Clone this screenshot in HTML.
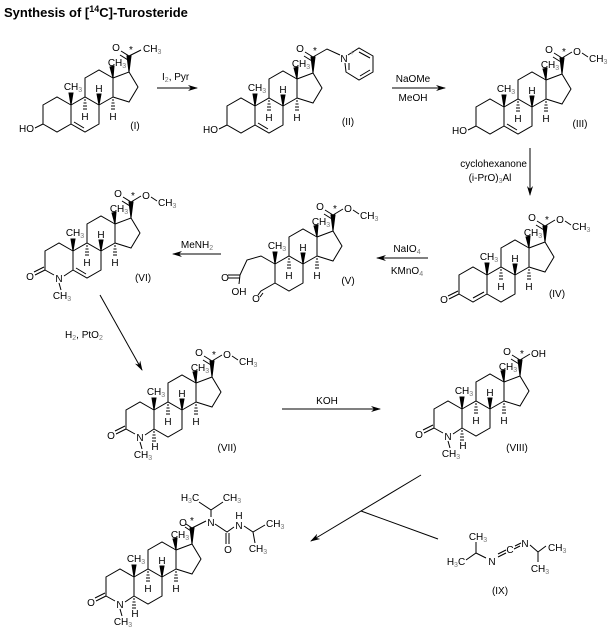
<!DOCTYPE html>
<html><head><meta charset="utf-8"><style>
html,body{margin:0;padding:0;background:#fff;}
svg{display:block;}
text{font-family:"Liberation Sans",sans-serif;font-size:10px;fill:#000;}
.s{font-size:7px;fill:#777;}
.m{text-anchor:middle;}
.e{text-anchor:end;}
.ttl{font-size:13px;font-weight:bold;}
</style></head><body>
<svg width="611" height="632" viewBox="0 0 611 632" xmlns="http://www.w3.org/2000/svg">
<defs>
<marker id="ah" markerWidth="10" markerHeight="8" refX="9" refY="4" orient="auto" markerUnits="userSpaceOnUse">
<path d="M0,1 L10,4 L0,7 L3,4 Z" fill="#000"/></marker>
<g id="bcd" stroke="#000" stroke-width="1" fill="none">
<path d="M28,-19 L42,-27 L56,-19 L56,0 L42,8 L28,0 Z"/>
<path d="M42,-27 L42,-46 L56,-54 L70,-46 L70,-27 L56,-19"/>
<path d="M70,-46 L86,-52 L95,-37 L86,-22 L70,-27"/>
<polygon points="28,-19 26,-31 30,-31" fill="#000"/>
<polygon points="56,-19 54,-30 58,-30" fill="#000"/>
<polygon points="70,-46 67,-57 71,-58" fill="#000"/>
<polygon points="86,-52 84,-68 88,-68" fill="#000"/>
<path d="M41,-24 h2 M40.5,-21 h3 M40,-18 h4 M40,-15 h4"/>
<path d="M69,-24 h2 M68.5,-21 h3 M68,-18 h4 M68,-15 h4"/>
</g>
<path id="ringA" d="M28,-19 L14,-27 L0,-19 L0,0 L14,8 L28,0" stroke="#000" fill="none"/>
<g id="azaA" stroke="#000" fill="none">
<path d="M28,-19 L14,-27 L0,-19 L0,0 L9,5 M19,6 L28,0 M14,13 L16,20"/>
<path d="M0,0 L-10,5 M-1,-3 L-11,2"/>
</g>
<g id="ester" stroke="#000" fill="none">
<path d="M86,-68 L78,-73 M85,-64 L77,-69 M86,-68 L96,-74 M106,-73 L112,-69"/>
</g>
<path id="hash5" d="M27,3 h2 M26.5,6 h3 M26,9 h4 M26,12 h4" stroke="#000" fill="none"/>
</defs>

<text x="4" y="17" class="ttl">Synthesis of [<tspan font-size="9" dy="-5">14</tspan><tspan dy="5">C]-Turosteride</tspan></text>

<!-- I -->
<g transform="translate(43,124)">
<use href="#bcd"/><use href="#ringA"/>
<path d="M31,-2 L41,4 M0,0 L-8,4 M86,-68 L78,-73 M85,-64 L77,-69 M86,-68 L98,-74" stroke="#000" fill="none"/>
<text x="-9" y="8" class="e">HO</text>
<text x="30" y="-34" class="m">CH<tspan class="s" dy="2">3</tspan></text>
<text x="42" y="-4" class="m">H</text><text x="56" y="-32" class="m">H</text><text x="70" y="-4" class="m">H</text>
<text x="74" y="-58" class="m">CH<tspan class="s" dy="2">3</tspan></text>
<text x="73" y="-73" class="m">O</text><text x="88" y="-71" class="m">*</text>
<text x="100" y="-72">CH<tspan class="s" dy="2">3</tspan></text>
</g>
<text x="135" y="129" class="m">(I)</text>
<line x1="157" y1="88" x2="197" y2="88" stroke="#000" marker-end="url(#ah)"/>
<text x="162" y="80">I<tspan class="s" dy="2">2</tspan><tspan dy="-2">, Pyr</tspan></text>

<!-- II -->
<g transform="translate(227,125)">
<use href="#bcd"/><use href="#ringA"/>
<path d="M31,-2 L41,4 M0,0 L-8,4 M86,-68 L78,-73 M85,-64 L77,-69 M86,-68 L100,-76 L113,-70" stroke="#000" fill="none"/>
<path d="M121,-70 L132,-77 L146,-69 L146,-53 L132,-45 L119,-53 L118,-62 M132,-73 L143,-67 M143,-55 L133,-49 M122,-55 L122,-62" stroke="#000" fill="none"/>
<text x="-9" y="8" class="e">HO</text>
<text x="30" y="-34" class="m">CH<tspan class="s" dy="2">3</tspan></text>
<text x="42" y="-4" class="m">H</text><text x="56" y="-32" class="m">H</text><text x="70" y="-4" class="m">H</text>
<text x="74" y="-58" class="m">CH<tspan class="s" dy="2">3</tspan></text>
<text x="73" y="-73" class="m">O</text><text x="88" y="-71" class="m">*</text>
<text x="117" y="-63" class="m">N</text><text x="123" y="-70" class="s">+</text>
</g>
<text x="348" y="125" class="m">(II)</text>
<line x1="392" y1="88" x2="445" y2="88" stroke="#000" marker-end="url(#ah)"/>
<text x="413" y="82" class="m">NaOMe</text>
<text x="413" y="101" class="m">MeOH</text>

<!-- III -->
<g transform="translate(476,126)">
<use href="#bcd"/><use href="#ringA"/><use href="#ester"/>
<path d="M31,-2 L41,4 M0,0 L-8,4" stroke="#000" fill="none"/>
<text x="-9" y="8" class="e">HO</text>
<text x="30" y="-34" class="m">CH<tspan class="s" dy="2">3</tspan></text>
<text x="42" y="-4" class="m">H</text><text x="56" y="-32" class="m">H</text><text x="70" y="-4" class="m">H</text>
<text x="74" y="-58" class="m">CH<tspan class="s" dy="2">3</tspan></text>
<text x="73" y="-73" class="m">O</text><text x="88" y="-71" class="m">*</text>
<text x="101" y="-71" class="m">O</text><text x="113" y="-64">CH<tspan class="s" dy="2">3</tspan></text>
</g>
<text x="580" y="127" class="m">(III)</text>
<line x1="530" y1="148" x2="530" y2="195" stroke="#000" marker-end="url(#ah)"/>
<text x="527" y="167" class="e">cyclohexanone</text>
<text x="490" y="181" class="m">(i-PrO)<tspan class="s" dy="2">3</tspan><tspan dy="-2">Al</tspan></text>

<!-- IV -->
<g transform="translate(459,294)">
<use href="#bcd"/><use href="#ringA"/><use href="#ester"/>
<path d="M14,4 L25,-2 M0,0 L-10,5 M-1,-3 L-11,2" stroke="#000" fill="none"/>
<text x="-15" y="9" class="m">O</text>
<text x="30" y="-34" class="m">CH<tspan class="s" dy="2">3</tspan></text>
<text x="42" y="-4" class="m">H</text><text x="56" y="-32" class="m">H</text><text x="70" y="-4" class="m">H</text>
<text x="74" y="-58" class="m">CH<tspan class="s" dy="2">3</tspan></text>
<text x="73" y="-73" class="m">O</text><text x="88" y="-71" class="m">*</text>
<text x="101" y="-71" class="m">O</text><text x="113" y="-64">CH<tspan class="s" dy="2">3</tspan></text>
</g>
<text x="557" y="297" class="m">(IV)</text>
<line x1="428" y1="258" x2="377" y2="258" stroke="#000" marker-end="url(#ah)"/>
<text x="407" y="252" class="m">NaIO<tspan class="s" dy="2">4</tspan></text>
<text x="407" y="274" class="m">KMnO<tspan class="s" dy="2">4</tspan></text>

<!-- V -->
<g transform="translate(247,283)">
<use href="#bcd"/>
<path d="M28,-19 L14,-27 L0,-23 L-7,-8 M-7,-8 L-19,-8 M-7,-5 L-19,-5 M-7,-8 L-8,1 M28,0 L14,8 L11,12 M16,10 L13,14" stroke="#000" fill="none"/>
<text x="-22" y="-2" class="m">O</text>
<text x="-8" y="12" class="m">OH</text>
<text x="9" y="19" class="m">O</text>
<text x="30" y="-34" class="m">CH<tspan class="s" dy="2">3</tspan></text>
<text x="42" y="-4" class="m">H</text><text x="56" y="-32" class="m">H</text><text x="70" y="-4" class="m">H</text>
<text x="74" y="-58" class="m">CH<tspan class="s" dy="2">3</tspan></text>
<use href="#ester"/>
<text x="73" y="-73" class="m">O</text><text x="88" y="-71" class="m">*</text>
<text x="101" y="-71" class="m">O</text><text x="113" y="-64">CH<tspan class="s" dy="2">3</tspan></text>
</g>
<text x="348" y="284" class="m">(V)</text>
<line x1="221" y1="254" x2="173" y2="254" stroke="#000" marker-end="url(#ah)"/>
<text x="197" y="248" class="m">MeNH<tspan class="s" dy="2">2</tspan></text>

<!-- VI -->
<g transform="translate(45,270)">
<use href="#bcd"/><use href="#azaA"/><use href="#ester"/>
<path d="M31,-2 L41,4" stroke="#000" fill="none"/>
<text x="-15" y="10" class="m">O</text>
<text x="14" y="12" class="m">N</text>
<text x="17" y="29" class="m">CH<tspan class="s" dy="2">3</tspan></text>
<text x="30" y="-34" class="m">CH<tspan class="s" dy="2">3</tspan></text>
<text x="42" y="-4" class="m">H</text><text x="56" y="-32" class="m">H</text><text x="70" y="-4" class="m">H</text>
<text x="74" y="-58" class="m">CH<tspan class="s" dy="2">3</tspan></text>
<text x="73" y="-73" class="m">O</text><text x="88" y="-71" class="m">*</text>
<text x="101" y="-71" class="m">O</text><text x="113" y="-64">CH<tspan class="s" dy="2">3</tspan></text>
</g>
<text x="143" y="281" class="m">(VI)</text>
<line x1="100" y1="295" x2="142" y2="370" stroke="#000" marker-end="url(#ah)"/>
<text x="65" y="338">H<tspan class="s" dy="2">2</tspan><tspan dy="-2">, PtO</tspan><tspan class="s" dy="2">2</tspan></text>

<!-- VII -->
<g transform="translate(126,429)">
<use href="#bcd"/><use href="#azaA"/><use href="#ester"/><use href="#hash5"/>
<text x="-15" y="10" class="m">O</text>
<text x="14" y="12" class="m">N</text>
<text x="29" y="21" class="m">H</text>
<text x="17" y="29" class="m">CH<tspan class="s" dy="2">3</tspan></text>
<text x="30" y="-34" class="m">CH<tspan class="s" dy="2">3</tspan></text>
<text x="42" y="-4" class="m">H</text><text x="56" y="-32" class="m">H</text><text x="70" y="-4" class="m">H</text>
<text x="74" y="-58" class="m">CH<tspan class="s" dy="2">3</tspan></text>
<text x="73" y="-73" class="m">O</text><text x="88" y="-71" class="m">*</text>
<text x="101" y="-71" class="m">O</text><text x="113" y="-64">CH<tspan class="s" dy="2">3</tspan></text>
</g>
<text x="227" y="451" class="m">(VII)</text>
<line x1="282" y1="409" x2="380" y2="409" stroke="#000" marker-end="url(#ah)"/>
<text x="327" y="404" class="m">KOH</text>

<!-- VIII -->
<g transform="translate(434,428)">
<use href="#bcd"/><use href="#azaA"/><use href="#hash5"/>
<path d="M86,-68 L78,-73 M85,-64 L77,-69 M86,-68 L96,-74" stroke="#000" fill="none"/>
<text x="-15" y="10" class="m">O</text>
<text x="14" y="12" class="m">N</text>
<text x="29" y="21" class="m">H</text>
<text x="17" y="29" class="m">CH<tspan class="s" dy="2">3</tspan></text>
<text x="30" y="-34" class="m">CH<tspan class="s" dy="2">3</tspan></text>
<text x="42" y="-4" class="m">H</text><text x="56" y="-32" class="m">H</text><text x="70" y="-4" class="m">H</text>
<text x="74" y="-58" class="m">CH<tspan class="s" dy="2">3</tspan></text>
<text x="73" y="-73" class="m">O</text><text x="88" y="-71" class="m">*</text>
<text x="97" y="-71">OH</text>
</g>
<text x="517" y="451" class="m">(VIII)</text>

<!-- branch arrow -->
<line x1="421" y1="475" x2="311" y2="541" stroke="#000" marker-end="url(#ah)"/>
<line x1="361" y1="511" x2="438" y2="539" stroke="#000"/>

<!-- IX -->
<g stroke="#000" fill="none">
<path d="M466,560 L476,553 L486,558 M476,553 L476,542 M498,557 L506,553 M498,554 L506,550 M514,549 L520,546 M515,546 L521,543 M530,545 L538,552 L546,546 M538,552 L538,562"/>
</g>
<text x="456" y="565" class="m">H<tspan class="s" dy="2">3</tspan><tspan dy="-2">C</tspan></text>
<text x="478" y="540" class="m">CH<tspan class="s" dy="2">3</tspan></text>
<text x="492" y="565" class="m">N</text>
<text x="510" y="553" class="m">C</text>
<text x="525" y="547" class="m">N</text>
<text x="548" y="551">CH<tspan class="s" dy="2">3</tspan></text>
<text x="540" y="572" class="m">CH<tspan class="s" dy="2">3</tspan></text>
<text x="500" y="594" class="m">(IX)</text>

<!-- X final -->
<g transform="translate(106,596)">
<use href="#bcd"/><use href="#azaA"/><use href="#hash5"/>
<text x="-15" y="10" class="m">O</text>
<text x="14" y="12" class="m">N</text>
<text x="29" y="21" class="m">H</text>
<text x="17" y="29" class="m">CH<tspan class="s" dy="2">3</tspan></text>
<text x="30" y="-34" class="m">CH<tspan class="s" dy="2">3</tspan></text>
<text x="42" y="-4" class="m">H</text><text x="56" y="-32" class="m">H</text><text x="70" y="-4" class="m">H</text>
<text x="74" y="-58" class="m">CH<tspan class="s" dy="2">3</tspan></text>
</g>
<g stroke="#000" fill="none">
<path d="M192,528 L186,524 M191,531 L185,527 M192,528 L206,521 M211,517 L211,510 L199,502 M211,510 L223,502 M215,524 L227,532 L234,527 M226,533 L226,544 M229,533 L229,544 M244,526 L253,532 L265,525 M253,532 L255,543"/>
</g>
<text x="183" y="526" class="m">O</text>
<text x="192" y="524" class="m">*</text>
<text x="211" y="526" class="m">N</text>
<text x="190" y="501" class="m">H<tspan class="s" dy="2">3</tspan><tspan dy="-2">C</tspan></text>
<text x="232" y="501" class="m">CH<tspan class="s" dy="2">3</tspan></text>
<text x="228" y="553" class="m">O</text>
<text x="239" y="529" class="m">N</text>
<text x="239" y="519" class="m">H</text>
<text x="266" y="527">CH<tspan class="s" dy="2">3</tspan></text>
<text x="258" y="552" class="m">CH<tspan class="s" dy="2">3</tspan></text>
</svg>
</body></html>
